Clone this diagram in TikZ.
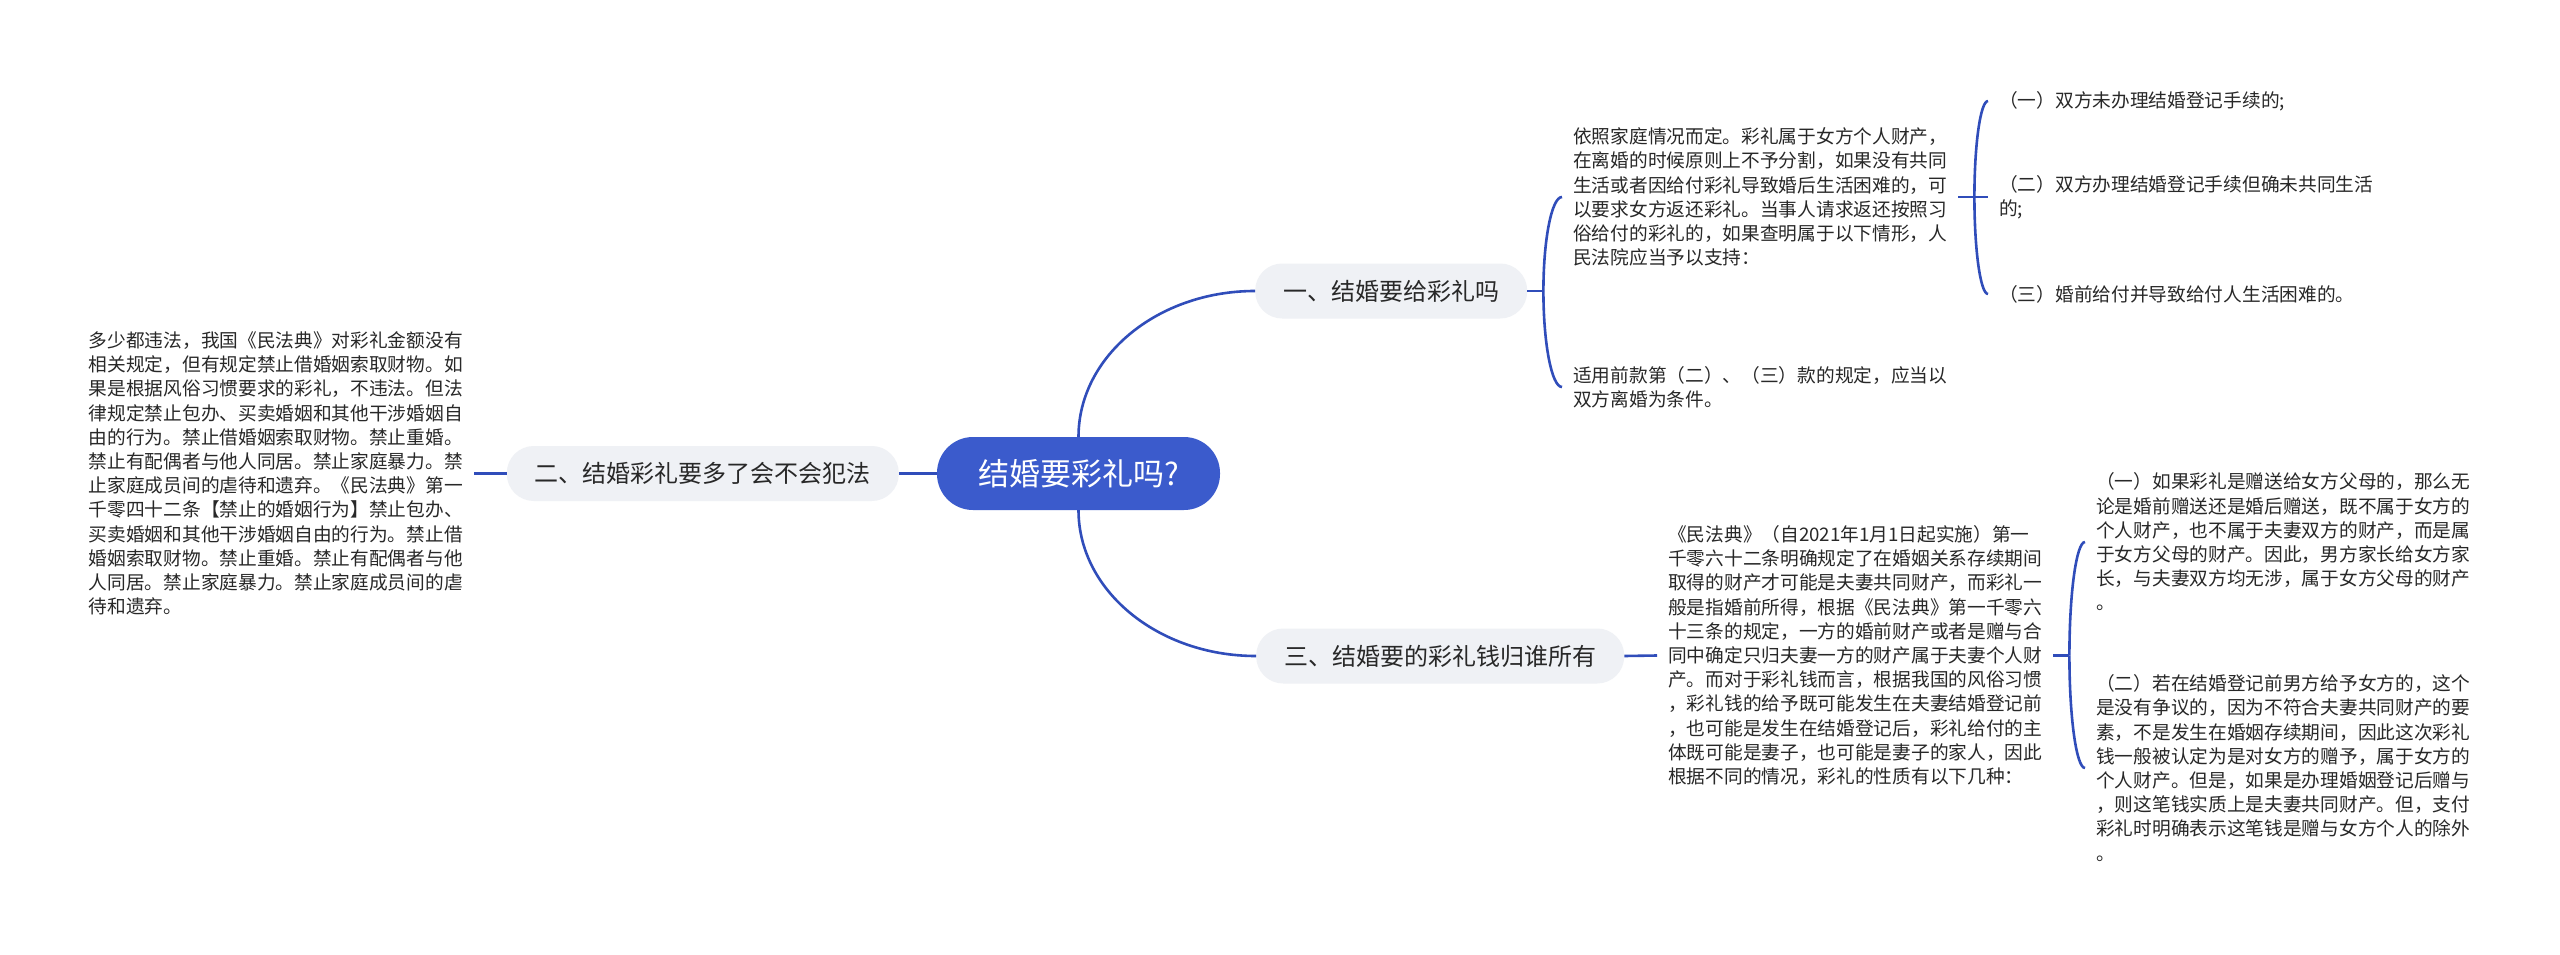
\documentclass[tikz,border=0pt]{standalone}
\usepackage{fontspec}
\setmainfont{Noto Sans CJK SC}
\usetikzlibrary{calc}
\definecolor{rootblue}{RGB}{59,91,204}
\definecolor{linkblue}{RGB}{48,77,186}
\definecolor{boxgray}{RGB}{239,241,245}
\definecolor{txt}{RGB}{40,40,40}
\begin{document}
\begin{tikzpicture}[x=1pt,y=-1pt,
  link/.style={draw=linkblue,line width=2.6pt},
  elbow/.style={to path={.. controls ($(\tikztostart)!0.5523!(\tikztostart|-\tikztotarget)$) and ($(\tikztotarget)!0.5523!(\tikztostart|-\tikztotarget)$) .. (\tikztotarget)}},
  rootnode/.style={fill=rootblue,text=white,rounded corners=36pt,minimum width=283pt,minimum height=73pt,inner sep=0pt,font=\fontsize{31}{36}\selectfont},
  branch/.style={fill=boxgray,text=txt,rounded corners=27pt,minimum height=55pt,inner xsep=28pt,inner ysep=0pt,font=\fontsize{24}{28}\selectfont},
  leaf/.style={text=txt,align=left,inner xsep=11pt,inner ysep=0pt,font=\fontsize{18.7}{24.2}\selectfont}
]
\useasboundingbox (0,0) rectangle (2560,955);
\fill[white] (0,0) rectangle (2560,955);

\node[rootnode] (root) at (1078.5,473.5) {结婚要彩礼吗?};
\node[branch,anchor=west] (b1) at (1255,291) {一、结婚要给彩礼吗};
\node[branch,anchor=east] (b2) at (899,473.5) {二、结婚彩礼要多了会不会犯法};
\node[branch,anchor=west] (b3) at (1256,656) {三、结婚要的彩礼钱归谁所有};

\coordinate (j1) at ($(b1.east)+(16,0)$);
\node[leaf,anchor=west] (t1a) at (1562,197) {依照家庭情况而定。彩礼属于女方个人财产，\\在离婚的时候原则上不予分割，如果没有共同\\生活或者因给付彩礼导致婚后生活困难的，可\\以要求女方返还彩礼。当事人请求返还按照习\\俗给付的彩礼的，如果查明属于以下情形，人\\民法院应当予以支持：};
\node[leaf,anchor=west] (t1b) at (1562,387) {适用前款第（二）、（三）款的规定，应当以\\双方离婚为条件。};
\coordinate (j2) at ($(t1a.east)+(16,0)$);
\node[leaf,anchor=west] (i1) at (1988,101) {（一）双方未办理结婚登记手续的;};
\node[leaf,anchor=west] (i2) at (1988,197) {（二）双方办理结婚登记手续但确未共同生活\\的;};
\node[leaf,anchor=west] (i3) at (1988,294) {（三）婚前给付并导致给付人生活困难的。};

\node[leaf,anchor=east] (t2) at (474,473.5) {多少都违法，我国《民法典》对彩礼金额没有\\相关规定，但有规定禁止借婚姻索取财物。如\\果是根据风俗习惯要求的彩礼，不违法。但法\\律规定禁止包办、买卖婚姻和其他干涉婚姻自\\由的行为。禁止借婚姻索取财物。禁止重婚。\\禁止有配偶者与他人同居。禁止家庭暴力。禁\\止家庭成员间的虐待和遗弃。《民法典》第一\\千零四十二条【禁止的婚姻行为】禁止包办、\\买卖婚姻和其他干涉婚姻自由的行为。禁止借\\婚姻索取财物。禁止重婚。禁止有配偶者与他\\人同居。禁止家庭暴力。禁止家庭成员间的虐\\待和遗弃。};

\node[leaf,anchor=west] (t3) at (1657,655.5) {《民法典》（自2021年1月1日起实施）第一\\千零六十二条明确规定了在婚姻关系存续期间\\取得的财产才可能是夫妻共同财产，而彩礼一\\般是指婚前所得，根据《民法典》第一千零六\\十三条的规定，一方的婚前财产或者是赠与合\\同中确定只归夫妻一方的财产属于夫妻个人财\\产。而对于彩礼钱而言，根据我国的风俗习惯\\，彩礼钱的给予既可能发生在夫妻结婚登记前\\，也可能是发生在结婚登记后，彩礼给付的主\\体既可能是妻子，也可能是妻子的家人，因此\\根据不同的情况，彩礼的性质有以下几种：};
\coordinate (j3) at ($(t3.east)+(16,0)$);
\node[leaf,anchor=west] (t3a) at (2085,542) {（一）如果彩礼是赠送给女方父母的，那么无\\论是婚前赠送还是婚后赠送，既不属于女方的\\个人财产，也不属于夫妻双方的财产，而是属\\于女方父母的财产。因此，男方家长给女方家\\长，与夫妻双方均无涉，属于女方父母的财产\\。};
\node[leaf,anchor=west] (t3b) at (2085,768) {（二）若在结婚登记前男方给予女方的，这个\\是没有争议的，因为不符合夫妻共同财产的要\\素，不是发生在婚姻存续期间，因此这次彩礼\\钱一般被认定为是对女方的赠予，属于女方的\\个人财产。但是，如果是办理婚姻登记后赠与\\，则这笔钱实质上是夫妻共同财产。但，支付\\彩礼时明确表示这笔钱是赠与女方个人的除外\\。};

\draw[link] (root.north) to[elbow] (b1.west);
\draw[link] (root.south) to[elbow] (b3.west);
\draw[link] (root.west) -- (b2.east);
\draw[link] (b1.east) -- (j1);
\draw[link] (j1) to[elbow] (t1a.west);
\draw[link] (j1) to[elbow] (t1b.west);
\draw[link] (t1a.east) -- (j2);
\draw[link] (j2) to[elbow] (i1.west);
\draw[link] (j2) -- (i2.west);
\draw[link] (j2) to[elbow] (i3.west);
\draw[link] (b2.west) -- (t2.east);
\draw[link] (b3.east) -- (t3.west);
\draw[link] (t3.east) -- (j3);
\draw[link] (j3) to[elbow] (t3a.west);
\draw[link] (j3) to[elbow] (t3b.west);
\end{tikzpicture}
\end{document}
